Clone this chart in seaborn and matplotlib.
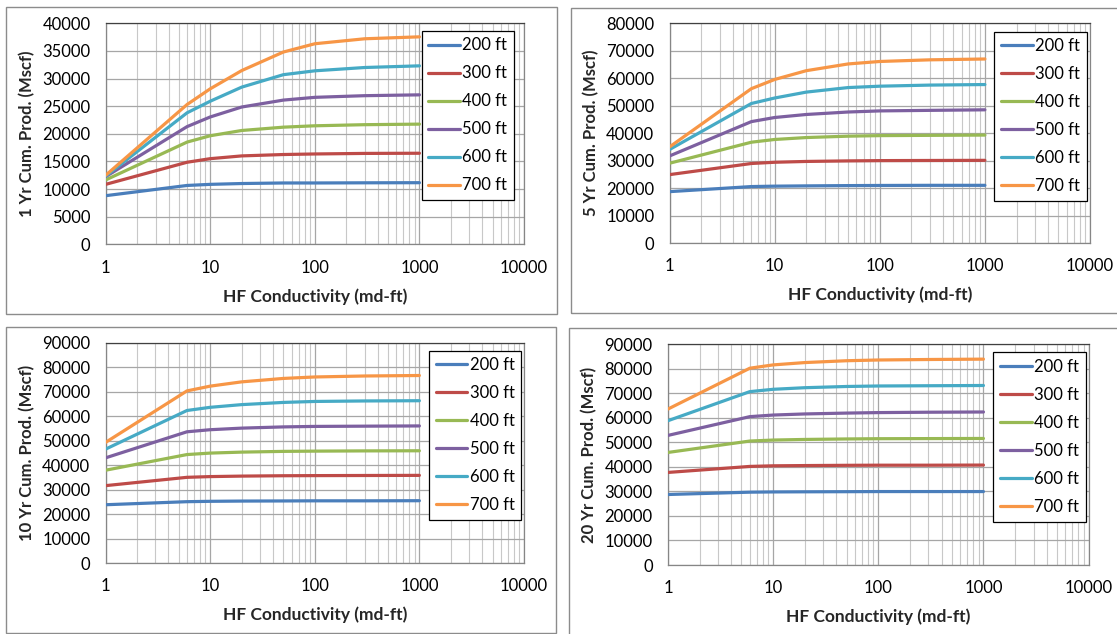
import numpy as np
import pandas as pd
import matplotlib
matplotlib.use("Agg")
import matplotlib.pyplot as plt
import seaborn as sns
from matplotlib.patches import Rectangle
from matplotlib.ticker import FixedLocator, FixedFormatter, LogLocator, NullFormatter, FuncFormatter

# ---------------- data ----------------
conductivity = [1, 6, 10, 20, 50, 100, 300, 1000]
spacings = ["200 ft", "300 ft", "400 ft", "500 ft", "600 ft", "700 ft"]
colors = ["#4A7EBB", "#BE4B48", "#98B954", "#7D60A0", "#46AAC5", "#F79646"]

prod_1yr = [
    [8800, 10650, 10850, 11000, 11100, 11100, 11130, 11150],
    [10850, 14850, 15500, 16000, 16250, 16350, 16450, 16480],
    [11650, 18500, 19650, 20600, 21200, 21450, 21650, 21750],
    [12250, 21300, 23050, 24850, 26100, 26600, 26900, 27050],
    [12350, 23800, 25900, 28450, 30700, 31400, 32000, 32300],
    [12500, 25300, 28150, 31450, 34800, 36300, 37200, 37550],
]
prod_5yr = [
    [18700, 20550, 20700, 20800, 20900, 20950, 21000, 21000],
    [24900, 28950, 29400, 29700, 29900, 30000, 30050, 30100],
    [29050, 36700, 37700, 38400, 38900, 39100, 39200, 39300],
    [31700, 44200, 45700, 46800, 47700, 48100, 48300, 48500],
    [34050, 50800, 52800, 54950, 56600, 57100, 57500, 57700],
    [35000, 56200, 59550, 62750, 65200, 66100, 66700, 67000],
]
prod_10yr = [
    [23800, 25050, 25200, 25300, 25350, 25400, 25400, 25450],
    [31600, 35000, 35300, 35500, 35650, 35700, 35750, 35800],
    [37900, 44300, 44900, 45300, 45600, 45700, 45800, 45850],
    [42950, 53600, 54450, 55100, 55600, 55800, 55900, 56000],
    [46500, 62300, 63600, 64700, 65600, 66000, 66200, 66300],
    [49250, 70300, 72250, 74000, 75400, 76000, 76400, 76600],
]
prod_20yr = [
    [28750, 29700, 29800, 29850, 29900, 29950, 29950, 29950],
    [37750, 40200, 40450, 40550, 40650, 40700, 40700, 40750],
    [45900, 50550, 50950, 51200, 51400, 51500, 51550, 51600],
    [52850, 60500, 61150, 61600, 61950, 62150, 62300, 62400],
    [58850, 70700, 71650, 72300, 72800, 73000, 73100, 73200],
    [63600, 80250, 81600, 82550, 83300, 83600, 83800, 83950],
]
y_labels = ["1 Yr Cum. Prod. (Mscf)", "5 Yr Cum. Prod. (Mscf)",
            "10 Yr Cum. Prod. (Mscf)", "20 Yr Cum. Prod. (Mscf)"]
y_max = [40000, 80000, 90000, 90000]
y_step = [5000, 10000, 10000, 10000]
x_label = "HF Conductivity (md-ft)"
x_ticks = [1, 10, 100, 1000, 10000]
x_tick_labels = ["1", "10", "100", "1000", "10000"]

# ---------------- style ----------------
sns.set_style("white")
plt.rcParams["font.family"] = ["Lato", "DejaVu Sans"]
plt.rcParams["text.color"] = "black"

W, H = 1117, 634
fig = plt.figure(figsize=(W / 100, H / 100), dpi=100)
fig.patch.set_facecolor("white")

# (left, right, top, bottom) in pixels
axes_px = [(105.7, 524, 23.3, 244.3), (669.6, 1090, 23.3, 243),
           (105.5, 524, 342.7, 563), (668, 1088.6, 344.3, 565)]
legend_anchor = [(0.976, 0.966), (0.992, 0.962), (0.994, 0.964), (0.993, 0.964)]
borders_px = [(6.3, 6.7, 556.7, 314), (570.7, 8.3, 1125, 313),
              (6.4, 326.7, 556, 632.7), (569, 328, 1125, 640)]

for (x0, y0, x1, y1) in borders_px:
    fig.add_artist(Rectangle((x0 / W, 1 - y1 / H), (x1 - x0) / W, (y1 - y0) / H,
                             transform=fig.transFigure, fill=False,
                             edgecolor="#8C8C8C", linewidth=1.0))

panels = [prod_1yr, prod_5yr, prod_10yr, prod_20yr]
for i, prod in enumerate(panels):
    l, r, t, b = axes_px[i]
    ax = fig.add_axes([l / W, 1 - b / H, (r - l) / W, (b - t) / H])
    rows = []
    for s, vals in zip(spacings, prod):
        for x, v in zip(conductivity, vals):
            rows.append({"cond": x, "prod": v, "spacing": s})
    df = pd.DataFrame(rows)
    ax.set_xscale("log")
    sns.lineplot(data=df, x="cond", y="prod", hue="spacing", hue_order=spacings,
                 palette=colors, linewidth=2.3, estimator=None, ax=ax,
                 solid_joinstyle="round", solid_capstyle="round", zorder=3)
    ax.set_xlim(1, 10000)
    ax.set_ylim(0, y_max[i])
    ax.set_yticks(np.arange(0, y_max[i] + 1, y_step[i]))
    ax.yaxis.set_major_formatter(FuncFormatter(lambda v, p: f"{int(round(v))}"))
    ax.xaxis.set_major_locator(FixedLocator(x_ticks))
    ax.xaxis.set_major_formatter(FixedFormatter(x_tick_labels))
    ax.xaxis.set_minor_locator(LogLocator(base=10, subs=range(2, 10), numticks=20))
    ax.xaxis.set_minor_formatter(NullFormatter())
    ax.set_axisbelow(True)
    ax.grid(which="major", color="#A6A6A6", linewidth=0.9)
    ax.grid(which="minor", axis="x", color="#C8C8C8", linewidth=0.8)
    ax.tick_params(which="major", direction="out", length=4, width=0.9,
                   color="#868686", labelsize=12, labelcolor="black", pad=7)
    ax.tick_params(axis="y", pad=7)
    ax.tick_params(which="minor", length=0)
    for side in ["left", "bottom", "right"]:
        ax.spines[side].set_color("#868686")
        ax.spines[side].set_linewidth(0.9)
    ax.spines["top"].set_color("#404040")
    ax.spines["top"].set_linewidth(0.9)
    ax.set_xlabel(x_label, fontsize=12.5, fontweight="bold", labelpad=9)
    ax.set_ylabel(y_labels[i], fontsize=12, fontweight="bold", labelpad=5)
    handles, labels = ax.get_legend_handles_labels()
    leg = ax.legend(handles, labels, loc="upper right", bbox_to_anchor=legend_anchor[i],
                    borderaxespad=0, frameon=True, fancybox=False, framealpha=1,
                    edgecolor="black", fontsize=12, handlelength=1.9,
                    handletextpad=0.15, labelspacing=0.72, borderpad=0.4)
    leg.get_frame().set_linewidth(0.9)
    for ln in leg.get_lines():
        ln.set_linewidth(2.3)

fig.savefig("out.png", dpi=100, facecolor="white")
